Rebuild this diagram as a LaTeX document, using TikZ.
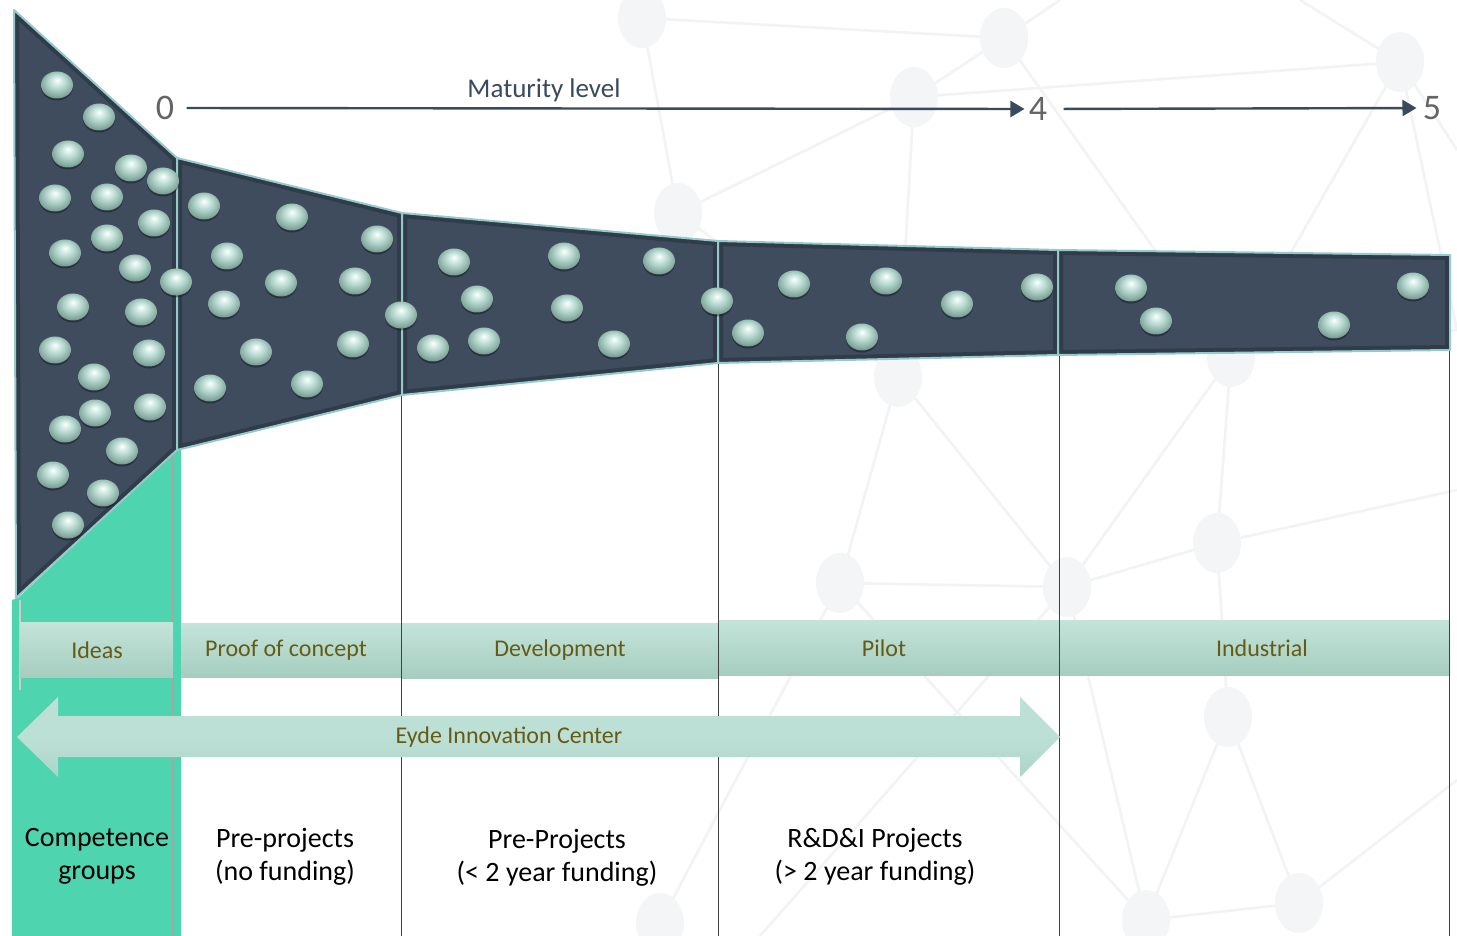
\documentclass[tikz,border=0pt]{standalone}
\usepackage{fontspec}
\setmainfont{Carlito}
\usetikzlibrary{arrows.meta}
\definecolor{navy}{RGB}{62,76,94}
\definecolor{navyline}{RGB}{58,74,94}
\definecolor{rim}{RGB}{150,202,202}
\definecolor{bevel}{RGB}{48,60,74}
\definecolor{greenc}{RGB}{78,212,175}
\definecolor{bandtop}{RGB}{196,228,218}
\definecolor{bandbot}{RGB}{166,205,192}
\definecolor{arrowc}{RGB}{189,224,214}
\definecolor{arrowbot}{RGB}{172,212,200}
\definecolor{olive}{RGB}{102,90,20}
\definecolor{digitc}{RGB}{100,100,100}
\definecolor{netc}{RGB}{241,243,245}
\definecolor{netd}{RGB}{243,245,247}
\definecolor{beadA}{RGB}{222,242,236}
\definecolor{beadB}{RGB}{175,210,200}
\definecolor{beadC}{RGB}{128,165,155}
\definecolor{beadD}{RGB}{80,105,100}
\pgfdeclareradialshading{beadsh}{\pgfpoint{0bp}{9bp}}{color(0bp)=(white); color(5bp)=(beadA); color(15bp)=(beadB); color(26bp)=(beadC); color(33bp)=(beadD); color(50bp)=(beadD)}
\tikzset{
  sect/.style={fill=navy},
  rimline/.style={draw=rim, line width=1pt, line join=round},
  vline/.style={draw=black!75, line width=0.5pt},
  bandseg/.style={top color=bandtop, bottom color=bandbot, draw=none},
  bandlbl/.style={text=olive, font=\fontsize{12}{14}\selectfont},
  bottomlbl/.style={align=center, font=\fontsize{14}{16.5}\selectfont},
  digit/.style={text=digitc, font=\fontsize{18}{20}\selectfont, inner sep=0pt},
  matarrow/.style={draw=navyline, line width=1.2pt, -{Triangle[length=7pt,width=8pt]}},
  netline/.style={draw=netc, line width=1.3pt},
  netdot/.style={fill=netd},
}
\begin{document}
\begin{tikzpicture}[x=0.5pt,y=-0.5pt]
\useasboundingbox (0,0) rectangle (1457,936);
\fill[white] (0,0) rectangle (1457,936);
% faint background network
\begin{scope}
\coordinate (a) at (642,18);
\coordinate (b) at (1004,38);
\coordinate (c) at (914,97);
\coordinate (d) at (678,213);
\coordinate (e) at (1400,62);
\coordinate (f) at (898,377);
\coordinate (g) at (840,583);
\coordinate (h) at (1067,587);
\coordinate (i) at (1217,543);
\coordinate (j) at (1228,717);
\coordinate (k) at (1146,920);
\coordinate (l) at (1299,903);
\coordinate (m) at (660,923);
\coordinate (n) at (1231,357);
\coordinate (o1) at (1457,150);
\coordinate (o2) at (1457,490);
\coordinate (o3) at (1457,780);
\coordinate (o4) at (1300,0);
\coordinate (o5) at (1060,0);
\coordinate (o6) at (760,936);
\coordinate (o7) at (1457,330);
\draw[netline] (a) -- (b) -- (c) -- (d) -- (a);
\draw[netline] (c) -- (e) -- (o1);
\draw[netline] (b) -- (n) -- (i) -- (o2);
\draw[netline] (d) -- (f) -- (g) -- (h) -- (i);
\draw[netline] (c) -- (f) -- (h);
\draw[netline] (n) -- (h) -- (k) -- (l) -- (j) -- (i);
\draw[netline] (j) -- (k);
\draw[netline] (g) -- (m);
\draw[netline] (g) -- (k);
\draw[netline] (l) -- (o3);
\draw[netline] (e) -- (o4);
\draw[netline] (e) -- (n);
\draw[netline] (b) -- (o5);
\draw[netline] (h) -- (o6);
\draw[netline] (n) -- (o7);
\draw[netline] (e) -- (o7);
\foreach \q in {a,b,c,d,e,f,g,h,i,j,k,l,m,n}
  \fill[netdot] (\q) ellipse [x radius=24, y radius=30];
\end{scope}
% green column
\fill[greenc] (12,936) -- (12,600) -- (18,598) -- (177,450) -- (181,450) -- (181,936) -- cycle;
\draw[draw=black!35, line width=0.6pt] (173,452) -- (173,936);
\draw[draw=black!20, line width=0.6pt] (20,600) -- (20,690);
% stage band
\path[bandseg] (20,622) rectangle (173,677);
\path[bandseg] (181,623) rectangle (401,677);
\path[bandseg] (401,623) rectangle (718,678);
\path[bandseg] (718,620) rectangle (1059,675);
\path[bandseg] (1059,620) rectangle (1450,675);
\node[bandlbl] (ideas) at (97,650) {Ideas};
\node[bandlbl] (poc) at (286,650) {Proof of concept};
\node[bandlbl] (dev) at (560,650) {Development};
\node[bandlbl] (pilot) at (884,648) {Pilot};
\node[bandlbl] (ind) at (1262,648) {Industrial};
% vertical dividers
\draw[vline] (401,395) -- (401,936);
\draw[vline] (718,363) -- (718,936);
\draw[vline] (1059,355) -- (1059,936);
\draw[vline] (1449,350) -- (1449,936);
% Eyde double arrow
\path[top color=arrowc, bottom color=arrowbot, middle color=arrowc]
  (17,737) -- (58,697) -- (58,716) -- (1020,716) -- (1020,697) -- (1060,737)
  -- (1020,777) -- (1020,757) -- (58,757) -- (58,777) -- cycle;
\node[bandlbl] (eyde) at (509,737) {Eyde Innovation Center};
% funnel sections
\foreach \P in {
  {(14,10) -- (177,158) -- (177,450) -- (16,598) -- cycle},
  {(177,158) -- (402,213) -- (402,395) -- (177,450) -- cycle},
  {(402,213) -- (718,241) -- (718,363) -- (402,395) -- cycle},
  {(718,241) -- (1058,250) -- (1058,355) -- (718,363) -- cycle},
  {(1058,250) -- (1450,255) -- (1450,350) -- (1058,355) -- cycle}}{
  \fill[navy] \P;
  \begin{scope}
    \clip \P;
    \draw[draw=bevel, line width=5pt, line join=miter] \P;
  \end{scope}
  \draw[rimline] \P;
}
% beads
\foreach \x/\y in {57/85, 99/117, 68/154, 131/168, 163/181, 55/198, 107/197, 154/223,
  65/253, 107/238, 135/268, 176/282, 73/307, 141/312, 55/350, 149/353, 94/377,
  95/413, 150/407, 65/429, 122/451, 53/475, 103/493, 68/525,
  204/206, 292/217, 377/239, 227/256, 281/283, 355/281, 224/304, 256/352, 210/388,
  307/384, 353/344, 401/315,
  454/262, 564/256, 659/261, 477/299, 567/308, 433/348, 484/341, 614/344, 717/301,
  794/284, 886/281, 957/304, 1037/287, 748/333, 862/337,
  1131/288, 1156/321, 1334/325, 1413/286}{
  \fill[black, opacity=0.35] (\x,\y+2) ellipse [x radius=16, y radius=13.5];
  \shade[shading=beadsh] (\x,\y) ellipse [x radius=16, y radius=13.5];
}
% maturity scale
\node[digit] (n0) at (165,108) {0};
\node[digit] (n4) at (1038,109) {4};
\node[digit] (n5) at (1432,108) {5};
\draw[matarrow, shorten <=6pt, shorten >=2pt] (n0.east) -- (n4.west);
\draw[matarrow, shorten <=8pt, shorten >=3pt] (n4.east) -- (n5.west);
\node[text=navyline, font=\fontsize{13.5}{16}\selectfont] (mat) at (544,90) {Maturity level};
% bottom labels
\node[bottomlbl] (cg) at (97,856) {Competence\\groups};
\node[bottomlbl] (pp) at (285,857) {Pre-projects\\(no funding)};
\node[bottomlbl] (pp2) at (557,858) {Pre-Projects\\(< 2 year funding)};
\node[bottomlbl] (rdi) at (875,857) {R\&D\&I Projects\\(> 2 year funding)};
\end{tikzpicture}
\end{document}
